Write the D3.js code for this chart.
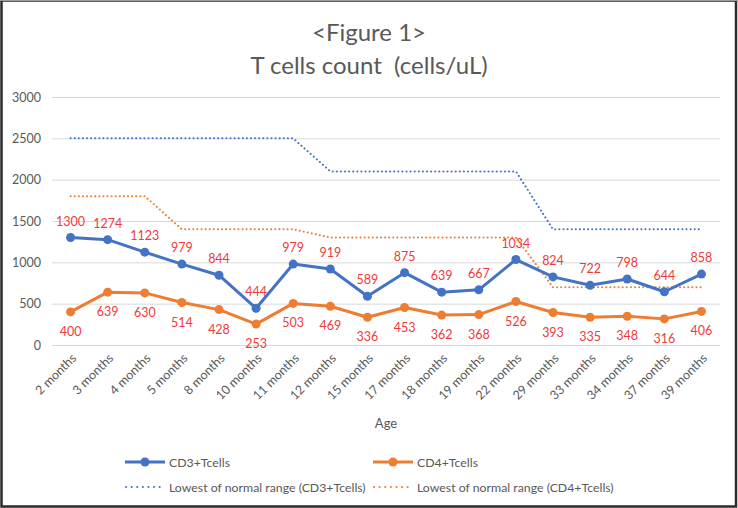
<!DOCTYPE html>
<html><head><meta charset="utf-8">
<script src="https://cdn.jsdelivr.net/npm/d3@7"></script>
<style>
html,body{margin:0;padding:0;background:#fff;}
svg{display:block;}
</style></head>
<body>
<svg id="chart" width="738" height="508"></svg>
<script>
const categories = ["2 months","3 months","4 months","5 months","8 months","10 months","11 months","12 months","15 months","17 months","18 months","19 months","22 months","29 months","33 months","34 months","37 months","39 months"];
const cd3 = [1300,1274,1123,979,844,444,979,919,589,875,639,667,1034,824,722,798,644,858];
const cd4 = [400,639,630,514,428,253,503,469,336,453,362,368,526,393,335,348,316,406];
const cd3Low = [2500,2500,2500,2500,2500,2500,2500,2100,2100,2100,2100,2100,2100,1400,1400,1400,1400,1400];
const cd4Low = [1800,1800,1800,1400,1400,1400,1400,1300,1300,1300,1300,1300,1300,700,700,700,700,700];
const yTicks = [0,500,1000,1500,2000,2500,3000];

(function(){
const BLUE = "#4472C4", ORANGE = "#ED7D31", RED = "#f03a3a", GRAY = "#595959";
const FONT = "Lato, 'Open Sans', sans-serif";

const svg = d3.select("#chart");
const pLeft = 52, pRight = 720, pTop = 97, pBottom = 345;

const x = d3.scalePoint().domain(categories).range([pLeft, pRight]).padding(0.5);
const y = d3.scaleLinear().domain([0, 3000]).range([pBottom, pTop]);

// frame
svg.append("rect").attr("x",1.5).attr("y",0.5).attr("width",734.5).attr("height",506)
  .attr("fill","none").attr("stroke","#2b2b2b").attr("stroke-width",2.5);
svg.append("line").attr("x1",0).attr("x2",738).attr("y1",0.5).attr("y2",0.5)
  .attr("stroke","#9a9a9a").attr("stroke-width",1);

// title
svg.append("text").attr("x",369).attr("y",41).attr("text-anchor","middle")
  .attr("font-family",FONT).attr("font-size",24).attr("fill",GRAY).text("<Figure 1>");
svg.append("text").attr("x",369).attr("y",74).attr("text-anchor","middle")
  .attr("font-family",FONT).attr("font-size",24).attr("fill",GRAY)
  .style("white-space","pre").text("T cells count  (cells/uL)");

// gridlines + y axis
const yAxis = d3.axisLeft(y).tickValues(yTicks).tickFormat(d3.format("d"))
  .tickSize(-(pRight-pLeft)).tickPadding(11);
const gy = svg.append("g").attr("transform",`translate(${pLeft},0)`).call(yAxis);
gy.select(".domain").remove();
gy.selectAll(".tick line").attr("stroke","#d9d9d9").attr("stroke-width",1);
gy.selectAll(".tick text").attr("font-family",FONT).attr("font-size",12.5).attr("fill",GRAY);

// x axis
const xAxis = d3.axisBottom(x).tickSize(0).tickPadding(0);
const gx = svg.append("g").attr("transform",`translate(0,${pBottom})`).call(xAxis);
gx.select(".domain").remove();
gx.selectAll(".tick text").attr("font-family",FONT).attr("font-size",12.5).attr("fill",GRAY)
  .attr("text-anchor","end").attr("dy",null).attr("y",0)
  .attr("transform","translate(6,14) rotate(-45)");

svg.append("text").attr("x",386).attr("y",428).attr("text-anchor","middle")
  .attr("font-family",FONT).attr("font-size",13).attr("fill",GRAY).text("Age");

// dotted normal range lines
const line = d3.line().x((d,i)=>x(categories[i])).y(d=>y(d));
function dotted(data,color){
  svg.append("path").datum(data).attr("d",line).attr("fill","none")
    .attr("stroke",color).attr("stroke-width",2).attr("stroke-linecap","round")
    .attr("stroke-dasharray","0.1 4");
}
dotted(cd3Low,BLUE);
dotted(cd4Low,ORANGE);

function series(data,color){
  svg.append("path").datum(data).attr("d",line).attr("fill","none")
    .attr("stroke",color).attr("stroke-width",3).attr("stroke-linejoin","round");
  svg.append("g").selectAll("circle").data(data).join("circle")
    .attr("cx",(d,i)=>x(categories[i])).attr("cy",d=>y(d)).attr("r",4.5).attr("fill",color);
}
series(cd4,ORANGE);
series(cd3,BLUE);

// data labels
svg.append("g").selectAll("text").data(cd3).join("text")
  .attr("x",(d,i)=>x(categories[i])).attr("y",d=>y(d)-12)
  .attr("text-anchor","middle").attr("font-family",FONT).attr("font-size",12.5).attr("fill",RED)
  .text(d=>d);
svg.append("g").selectAll("text").data(cd4).join("text")
  .attr("x",(d,i)=>x(categories[i])).attr("y",d=>y(d)+24)
  .attr("text-anchor","middle").attr("font-family",FONT).attr("font-size",12.5).attr("fill",RED)
  .text(d=>d);

// legend
const legend = [
  {label:"CD3+Tcells", color:BLUE, dotted:false, x:125, y:462},
  {label:"CD4+Tcells", color:ORANGE, dotted:false, x:373, y:462},
  {label:"Lowest of normal range (CD3+Tcells)", color:BLUE, dotted:true, x:125, y:487},
  {label:"Lowest of normal range (CD4+Tcells)", color:ORANGE, dotted:true, x:373, y:487}
];
legend.forEach(l=>{
  const g = svg.append("g");
  if(l.dotted){
    g.append("line").attr("x1",l.x+1).attr("x2",l.x+38).attr("y1",l.y).attr("y2",l.y)
      .attr("stroke",l.color).attr("stroke-width",2).attr("stroke-linecap","round").attr("stroke-dasharray","0.1 5.5");
  } else {
    g.append("line").attr("x1",l.x).attr("x2",l.x+40).attr("y1",l.y).attr("y2",l.y)
      .attr("stroke",l.color).attr("stroke-width",3);
    g.append("circle").attr("cx",l.x+20).attr("cy",l.y).attr("r",4.5).attr("fill",l.color);
  }
  g.append("text").attr("x",l.x+44).attr("y",l.y+4.5).attr("font-family",FONT).attr("font-size",12.3)
    .attr("fill",GRAY).text(l.label);
});
})();
</script>
</body></html>
